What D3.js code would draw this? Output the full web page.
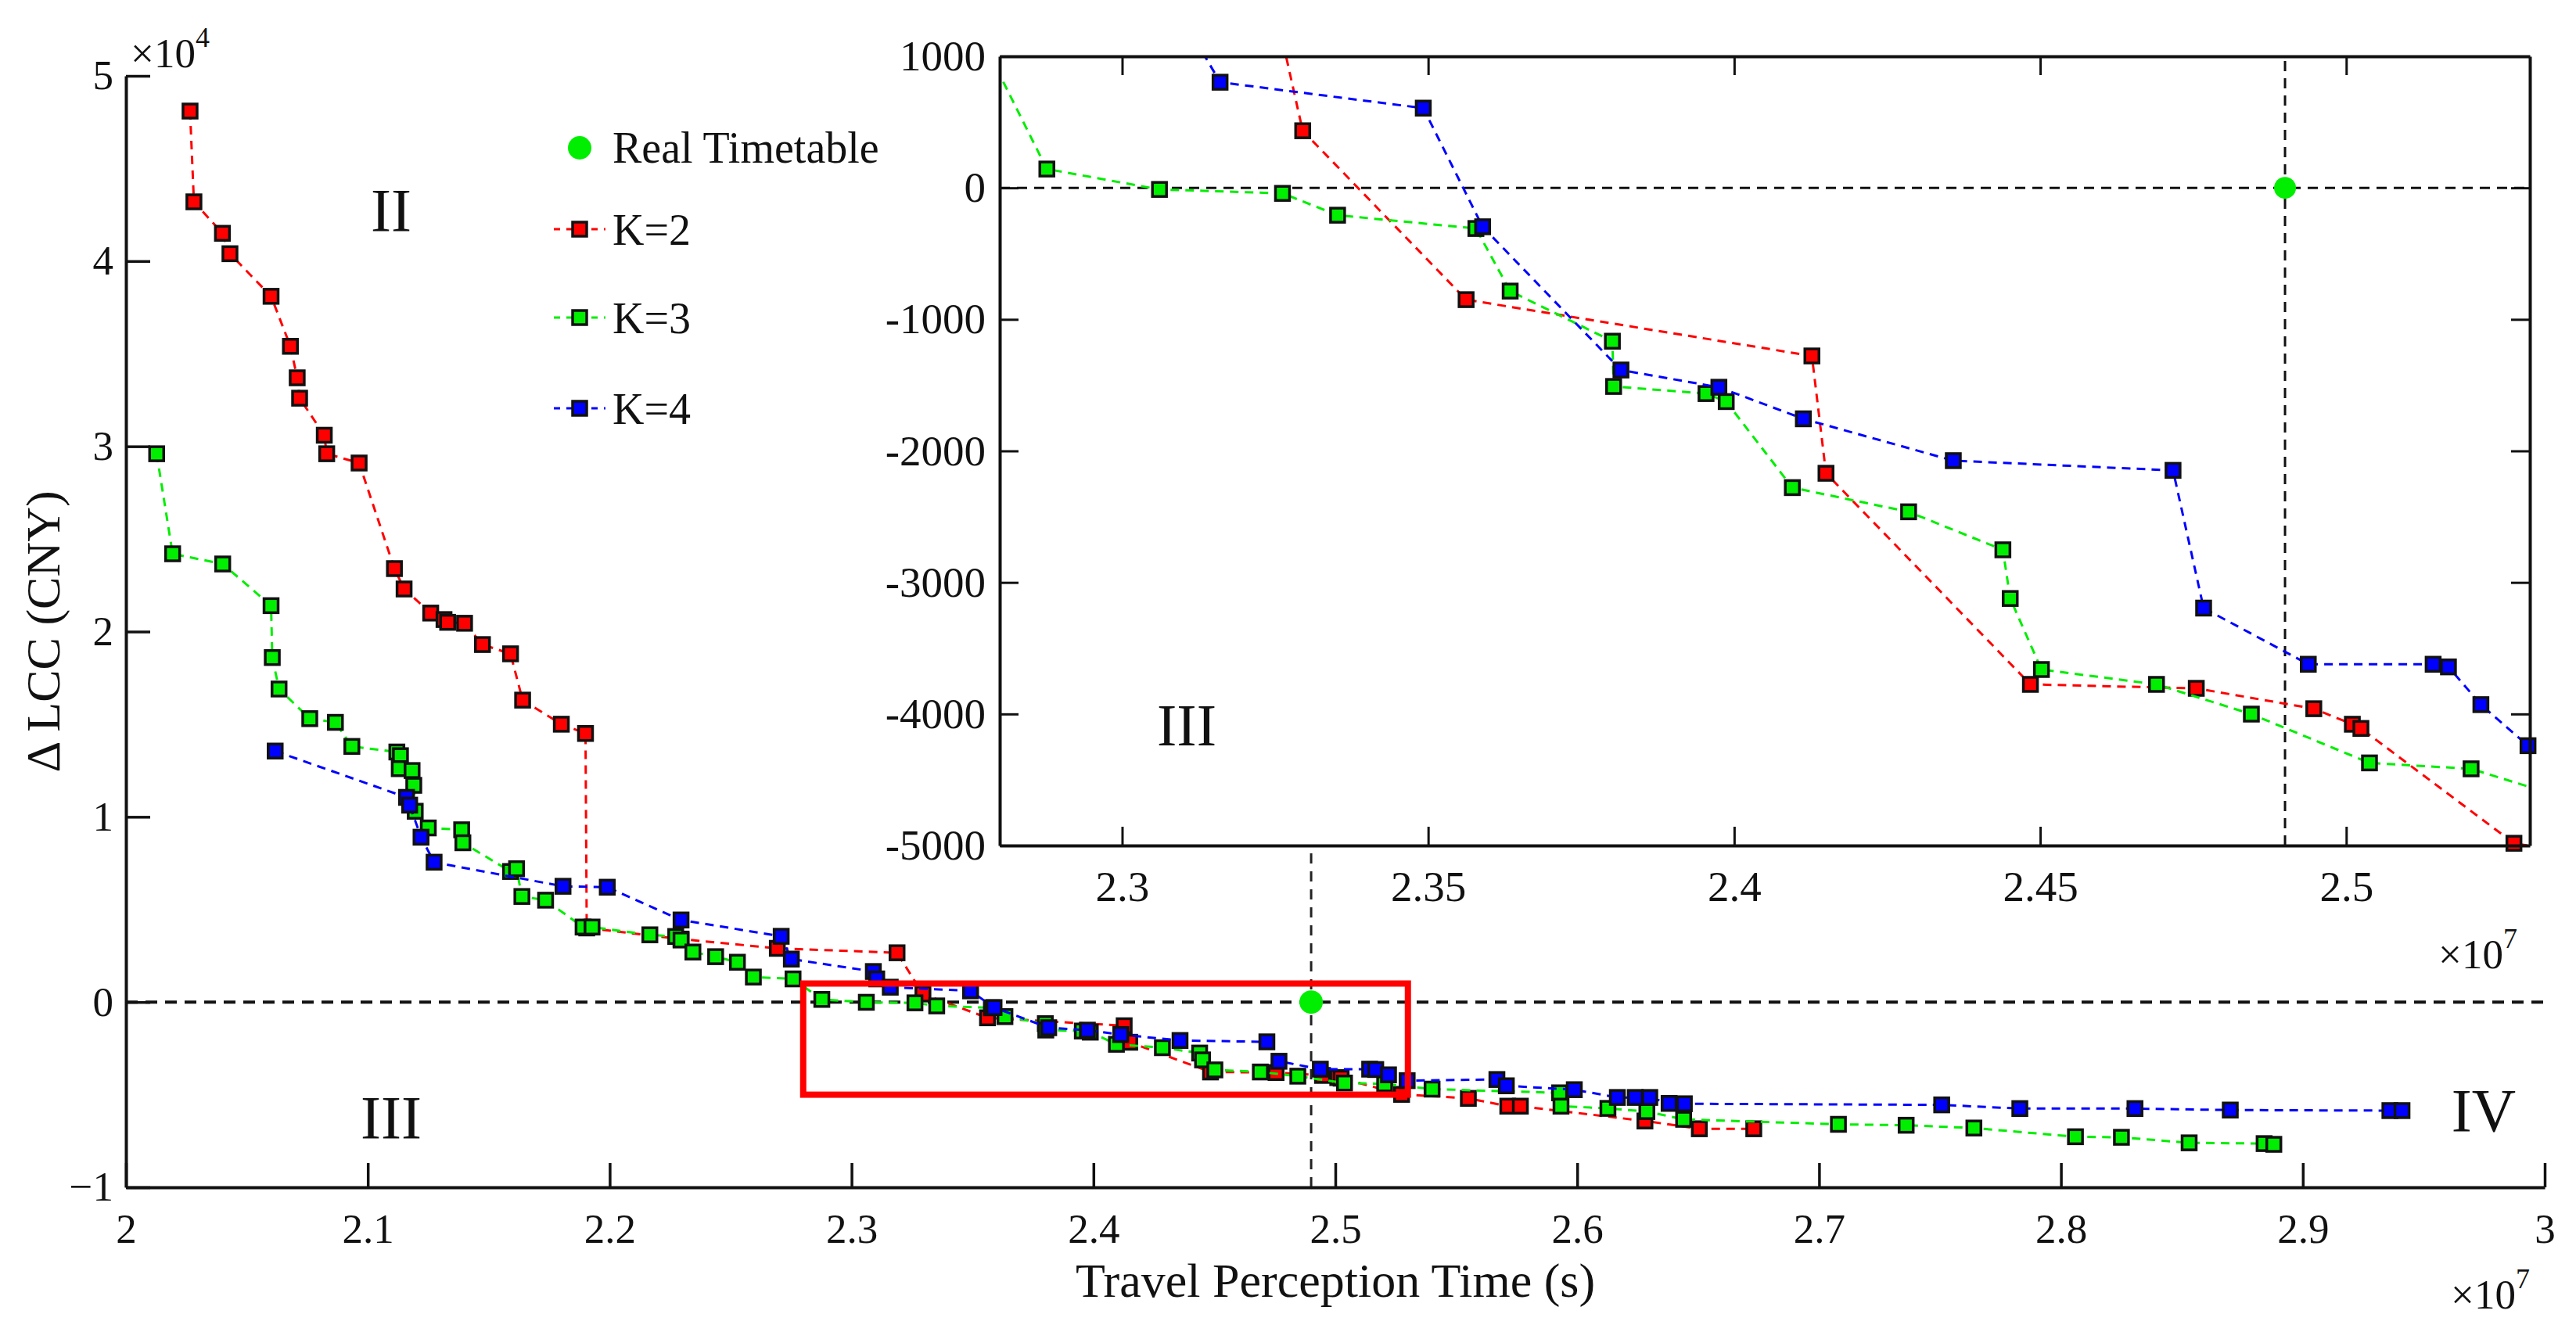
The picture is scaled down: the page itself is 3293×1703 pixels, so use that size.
<!DOCTYPE html>
<html>
<head>
<meta charset="utf-8">
<script src="https://cdn.jsdelivr.net/npm/d3@7/dist/d3.min.js"></script>
<style>
  body { margin: 0; background: #fff; }
  svg text { font-family: "Liberation Serif", "Times New Roman", Tinos, "DejaVu Serif", serif !important; fill: #111; }
</style>
</head>
<body>
<div id="display"></div>
<script>
// travel perception time in units of 1e7 s, cost difference in CNY
var k2Time = [2.0265, 2.0281, 2.0399, 2.043, 2.060, 2.068, 2.0708, 2.0718, 2.082, 2.083, 2.0964, 2.111, 2.115, 2.126, 2.1315, 2.133, 2.140, 2.1474, 2.159, 2.164, 2.180, 2.190, 2.1905, 2.2295, 2.2693, 2.3188, 2.3295, 2.3562, 2.4127, 2.415, 2.4484, 2.4755, 2.4947, 2.501, 2.5024, 2.5274, 2.555, 2.5713, 2.5765, 2.628, 2.6505, 2.673];
var k2Cost = [48100, 43200, 41500, 40400, 38100, 35400, 33700, 32600, 30600, 29600, 29100, 23400, 22300, 21000, 20650, 20500, 20450, 19300, 18800, 16300, 15000, 14500, 4000, 3400, 2900, 2660, 434, -850, -1278, -2170, -3775, -3805, -3960, -4078, -4110, -4983, -5200, -5620, -5620, -6420, -6840, -6840];

var k3Time = [2.0127, 2.0193, 2.040, 2.060, 2.0605, 2.0633, 2.076, 2.0866, 2.0934, 2.112, 2.1135, 2.113, 2.1183, 2.119, 2.1196, 2.125, 2.1388, 2.1393, 2.159, 2.1615, 2.1637, 2.1735, 2.189, 2.1927, 2.2166, 2.2273, 2.2295, 2.2344, 2.2438, 2.2528, 2.2594, 2.2758, 2.2877, 2.3061, 2.3262, 2.3352, 2.3578, 2.3634, 2.3801, 2.3803, 2.3954, 2.3987, 2.4095, 2.4285, 2.4439, 2.4451, 2.4502, 2.469, 2.4845, 2.5038, 2.5204, 2.540, 2.5927, 2.5933, 2.6127, 2.6288, 2.644, 2.708, 2.736, 2.764, 2.806, 2.825, 2.853, 2.884, 2.888];
var k3Cost = [29600, 24200, 23650, 21400, 18600, 16900, 15300, 15100, 13800, 13500, 13300, 12600, 12500, 11700, 10300, 9400, 9300, 8600, 7050, 7200, 5700, 5500, 4050, 4050, 3630, 3540, 3350, 2700, 2450, 2150, 1350, 1250, 143, -12, -42, -208, -309, -785, -1166, -1510, -1564, -1625, -2279, -2463, -2752, -3122, -3662, -3775, -4001, -4372, -4417, -4700, -4900, -5620, -5740, -5910, -6330, -6600, -6650, -6800, -7270, -7300, -7600, -7640, -7680];

var k4Time = [2.0617, 2.116, 2.1173, 2.122, 2.1274, 2.1807, 2.199, 2.2295, 2.2709, 2.2751, 2.309, 2.3104, 2.316, 2.3492, 2.3589, 2.3815, 2.3975, 2.4113, 2.4358, 2.4717, 2.4767, 2.4938, 2.5142, 2.5167, 2.522, 2.5297, 2.5668, 2.5707, 2.5988, 2.6166, 2.624, 2.630, 2.638, 2.6443, 2.7507, 2.783, 2.8306, 2.870, 2.936, 2.941];
var k4Cost = [13550, 11050, 10630, 8900, 7550, 6250, 6200, 4430, 3550, 2320, 1650, 1250, 803, 606, -296, -1385, -1516, -1756, -2074, -2148, -3195, -3622, -3622, -3642, -3929, -4241, -4180, -4520, -4730, -5150, -5150, -5150, -5470, -5490, -5550, -5750, -5750, -5830, -5860, -5860];

var realTime = [2.49];
var realCost = [0];

var seriesNames = ["K=2", "K=3", "K=4"];
var seriesColors = ["#ff0000", "#00ee00", "#0000ff"];

var xTicks = [2, 2.1, 2.2, 2.3, 2.4, 2.5, 2.6, 2.7, 2.8, 2.9, 3];
var yTicks = [-10000, 0, 10000, 20000, 30000, 40000, 50000];
var insetXTicks = [2.3, 2.35, 2.4, 2.45, 2.5];
var insetYTicks = [-5000, -4000, -3000, -2000, -1000, 0, 1000];

var W = 3293, H = 1703;
var SERIF = '"Liberation Serif", "Times New Roman", Tinos, "DejaVu Serif", serif';

var series = [
  {name: seriesNames[0], color: seriesColors[0], pts: k2Time.map(function(t, i){ return {x: t, y: k2Cost[i]}; })},
  {name: seriesNames[1], color: seriesColors[1], pts: k3Time.map(function(t, i){ return {x: t, y: k3Cost[i]}; })},
  {name: seriesNames[2], color: seriesColors[2], pts: k4Time.map(function(t, i){ return {x: t, y: k4Cost[i]}; })}
];
var real = realTime.map(function(t, i){ return {x: t, y: realCost[i]}; });

var svg = d3.select("#display").append("svg")
    .attr("width", W)
    .attr("height", H)
    .attr("font-family", SERIF);

// main axes area
var x = d3.scaleLinear().domain([2, 3]).range([161, 3253]);
var y = d3.scaleLinear().domain([-10000, 50000]).range([1518, 97]);

// reference lines
svg.append("line")
    .attr("x1", x(2)).attr("x2", x(3))
    .attr("y1", y(0)).attr("y2", y(0))
    .attr("stroke", "#111").attr("stroke-width", 4).attr("stroke-dasharray", "15,10");
svg.append("line")
    .attr("x1", x(realTime[0])).attr("x2", x(realTime[0]))
    .attr("y1", y(-10000)).attr("y2", y(50000))
    .attr("stroke", "#222").attr("stroke-width", 3).attr("stroke-dasharray", "13,10");

var MS = 18; // marker side

function drawSeries(g, sx, sy, s, clipId, filter) {
  var line = d3.line().x(function(d){ return sx(d.x); }).y(function(d){ return sy(d.y); });
  var path = g.append("path")
      .datum(s.pts)
      .attr("d", line)
      .attr("fill", "none")
      .attr("stroke", s.color)
      .attr("stroke-width", 3)
      .attr("stroke-dasharray", "11,8");
  if (clipId) path.attr("clip-path", "url(#" + clipId + ")");
  var pts = filter ? s.pts.filter(filter) : s.pts;
  g.selectAll(null)
    .data(pts)
    .enter()
    .append("rect")
      .attr("x", function(d){ return sx(d.x) - MS / 2; })
      .attr("y", function(d){ return sy(d.y) - MS / 2; })
      .attr("width", MS).attr("height", MS)
      .attr("fill", s.color)
      .attr("stroke", "#111")
      .attr("stroke-width", 3.5);
}

var mainG = svg.append("g");
series.forEach(function(s){ drawSeries(mainG, x, y, s); });

mainG.selectAll(null)
  .data(real)
  .enter()
  .append("circle")
    .attr("cx", function(d){ return x(d.x); })
    .attr("cy", function(d){ return y(d.y); })
    .attr("r", 15)
    .attr("fill", "#00ee00");

// zoom box
svg.append("rect")
    .attr("x", x(2.28)).attr("y", y(1000))
    .attr("width", x(2.53) - x(2.28))
    .attr("height", y(-5000) - y(1000))
    .attr("fill", "none")
    .attr("stroke", "#ff0000")
    .attr("stroke-width", 8);

// main axes, ticks inward
var xAxis = svg.append("g")
    .attr("transform", "translate(0," + y(-10000) + ")")
    .call(d3.axisBottom(x).tickValues(xTicks).tickFormat(d3.format("")).tickSizeInner(-31).tickSizeOuter(0).tickPadding(0));
var yAxis = svg.append("g")
    .attr("transform", "translate(" + x(2) + ",0)")
    .call(d3.axisLeft(y).tickValues(yTicks).tickFormat(function(d){ return d3.format("")(d / 10000); }).tickSizeInner(-31).tickSizeOuter(0).tickPadding(16));

[xAxis, yAxis].forEach(function(a){
  a.attr("font-family", SERIF);
  a.select(".domain").attr("stroke", "#111").attr("stroke-width", 4);
  a.selectAll(".tick line").attr("stroke", "#111").attr("stroke-width", 3.5);
  a.selectAll("text").attr("font-size", 53).attr("fill", "#111");
});
xAxis.selectAll("text").attr("y", 71).attr("dy", null);

// exponent labels
var e4 = svg.append("text").attr("x", 167).attr("y", 86).attr("font-size", 53);
e4.append("tspan").text("×10");
e4.append("tspan").attr("font-size", 36).attr("dy", -26).text("4");
var e7 = svg.append("text").attr("x", 3133).attr("y", 1673).attr("font-size", 53);
e7.append("tspan").text("×10");
e7.append("tspan").attr("font-size", 36).attr("dy", -26).text("7");

// axis titles
svg.append("text")
    .attr("x", x(2.5)).attr("y", 1658)
    .attr("text-anchor", "middle")
    .attr("font-size", 62)
    .text("Travel Perception Time (s)");
svg.append("text")
    .attr("transform", "translate(76," + ((y(50000) + y(-10000)) / 2) + ") rotate(-90)")
    .attr("text-anchor", "middle")
    .attr("font-size", 62)
    .text("Δ LCC (CNY)");

// region labels
svg.append("text").attr("x", 500).attr("y", 295).attr("text-anchor", "middle").attr("font-size", 78).text("II");
svg.append("text").attr("x", 500).attr("y", 1455).attr("text-anchor", "middle").attr("font-size", 78).text("III");
svg.append("text").attr("x", 3175).attr("y", 1446).attr("text-anchor", "middle").attr("font-size", 78).text("IV");

// legend
var legend = svg.append("g");
legend.append("circle").attr("cx", 741).attr("cy", 189).attr("r", 15).attr("fill", "#00ee00");
legend.append("text").attr("x", 783).attr("y", 208).attr("font-size", 56).text("Real Timetable");
series.forEach(function(s, i){
  var ly = [293, 406, 522][i];
  legend.append("line")
      .attr("x1", 708).attr("x2", 774).attr("y1", ly).attr("y2", ly)
      .attr("stroke", s.color).attr("stroke-width", 3).attr("stroke-dasharray", "8,8");
  legend.append("rect")
      .attr("x", 741 - MS / 2).attr("y", ly - MS / 2)
      .attr("width", MS).attr("height", MS)
      .attr("fill", s.color).attr("stroke", "#111").attr("stroke-width", 3.5);
  legend.append("text").attr("x", 783).attr("y", ly + 20).attr("font-size", 56).text(s.name);
});

// inset
var xi = d3.scaleLinear().domain([2.28, 2.53]).range([1278, 3234]);
var yi = d3.scaleLinear().domain([-5000, 1000]).range([1081, 72]);

var inset = svg.append("g");
inset.append("rect")
    .attr("x", xi(2.28)).attr("y", yi(1000))
    .attr("width", xi(2.53) - xi(2.28)).attr("height", yi(-5000) - yi(1000))
    .attr("fill", "#fff");
svg.append("clipPath").attr("id", "insetClip")
  .append("rect")
    .attr("x", xi(2.28)).attr("y", yi(1000))
    .attr("width", xi(2.53) - xi(2.28)).attr("height", yi(-5000) - yi(1000));

inset.append("line")
    .attr("x1", xi(2.28)).attr("x2", xi(2.53))
    .attr("y1", yi(0)).attr("y2", yi(0))
    .attr("stroke", "#111").attr("stroke-width", 3).attr("stroke-dasharray", "13,9");
inset.append("line")
    .attr("x1", xi(realTime[0])).attr("x2", xi(realTime[0]))
    .attr("y1", yi(-5000)).attr("y2", yi(1000))
    .attr("stroke", "#111").attr("stroke-width", 3).attr("stroke-dasharray", "13,9");

var inDomain = function(d){ return d.x >= 2.28 && d.x <= 2.53 && d.y >= -5000 && d.y <= 1000; };
series.forEach(function(s){ drawSeries(inset, xi, yi, s, "insetClip", inDomain); });

inset.selectAll(null)
  .data(real)
  .enter()
  .append("circle")
    .attr("cx", function(d){ return xi(d.x); })
    .attr("cy", function(d){ return yi(d.y); })
    .attr("r", 14)
    .attr("fill", "#00ee00");

var ixAxis = inset.append("g")
    .attr("transform", "translate(0," + yi(-5000) + ")")
    .call(d3.axisBottom(xi).tickValues(insetXTicks).tickFormat(d3.format("")).tickSizeInner(-24).tickSizeOuter(0).tickPadding(0));
var iyAxis = inset.append("g")
    .attr("transform", "translate(" + xi(2.28) + ",0)")
    .call(d3.axisLeft(yi).tickValues(insetYTicks).tickFormat(function(d){ return String(d); }).tickSizeInner(-24).tickSizeOuter(0).tickPadding(18));
var itAxis = inset.append("g")
    .attr("transform", "translate(0," + yi(1000) + ")")
    .call(d3.axisTop(xi).tickValues(insetXTicks).tickFormat("").tickSizeInner(-24).tickSizeOuter(0));
var irAxis = inset.append("g")
    .attr("transform", "translate(" + xi(2.53) + ",0)")
    .call(d3.axisRight(yi).tickValues(insetYTicks).tickFormat("").tickSizeInner(-24).tickSizeOuter(0));

[ixAxis, iyAxis, itAxis, irAxis].forEach(function(a){
  a.attr("font-family", SERIF);
  a.select(".domain").attr("stroke", "#111").attr("stroke-width", 4);
  a.selectAll(".tick line").attr("stroke", "#111").attr("stroke-width", 3);
  a.selectAll("text").attr("font-size", 55).attr("fill", "#111");
});
ixAxis.selectAll("text").attr("y", 71).attr("dy", null);

var ie7 = inset.append("text").attr("x", 3117).attr("y", 1238).attr("font-size", 53);
ie7.append("tspan").text("×10");
ie7.append("tspan").attr("font-size", 36).attr("dy", -26).text("7");

inset.append("text").attr("x", 1517).attr("y", 953).attr("text-anchor", "middle").attr("font-size", 76).text("III");
</script>
</body>
</html>
